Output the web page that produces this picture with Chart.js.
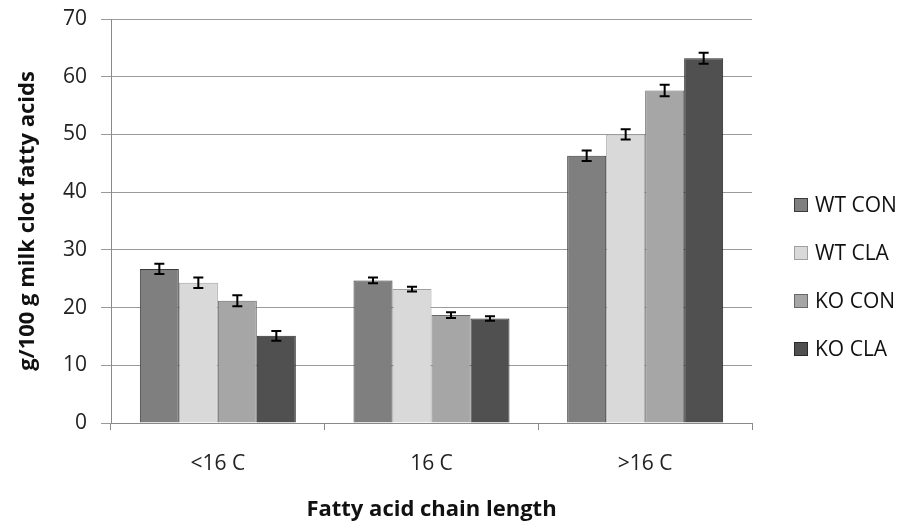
<!DOCTYPE html>
<html>
<head>
<meta charset="utf-8">
<script src="https://cdn.jsdelivr.net/npm/chart.js@4/dist/chart.umd.min.js"></script>
<style>
  html, body { margin: 0; padding: 0; background: #fff; }
  #wrap { width: 906px; height: 531px; }
</style>
</head>
<body>
<div id="wrap"><canvas id="grafico" width="906" height="531"></canvas></div>
<script>
// Datos
const categorias = ['<16 C', '16 C', '>16 C'];
const grupos = ['WT CON', 'WT CLA', 'KO CON', 'KO CLA'];

const wtCon = [26.7, 24.7, 46.3];
const wtCla = [24.3, 23.2, 50.0];
const koCon = [21.2, 18.7, 57.6];
const koCla = [15.1, 18.1, 63.2];

// Error estándar (barras de error)
const errWtCon = [0.9, 0.5, 0.9];
const errWtCla = [0.9, 0.4, 0.9];
const errKoCon = [0.95, 0.5, 1.0];
const errKoCla = [0.85, 0.4, 0.95];

const rellenos = ['#7f7f7f', '#d9d9d9', '#a6a6a6', '#505050'];
const bordes = ['#3a3a3a', '#a0a0a0', '#686868', '#2a2a2a'];

const series = [wtCon, wtCla, koCon, koCla];
const errores = [errWtCon, errWtCla, errKoCon, errKoCla];

const fuente = "'Open Sans', 'DejaVu Sans', sans-serif";

// Barras de error dibujadas sobre cada barra
const barrasError = {
    id: 'barrasError',
    afterDatasetsDraw(chart) {
        const ctx = chart.ctx;
        const y = chart.scales.y;
        ctx.save();
        ctx.strokeStyle = '#000';
        ctx.lineWidth = 2;
        chart.data.datasets.forEach((ds, i) => {
            const meta = chart.getDatasetMeta(i);
            meta.data.forEach((bar, j) => {
                const v = ds.data[j];
                const e = ds.errores[j];
                const yAlto = y.getPixelForValue(v + e);
                const yBajo = y.getPixelForValue(v - e);
                const x = bar.x;
                ctx.beginPath();
                ctx.moveTo(x, yAlto); ctx.lineTo(x, yBajo);
                ctx.moveTo(x - 5, yAlto); ctx.lineTo(x + 5, yAlto);
                ctx.moveTo(x - 5, yBajo); ctx.lineTo(x + 5, yBajo);
                ctx.stroke();
            });
        });
        ctx.restore();
    }
};

// Leyenda a la derecha
const leyenda = {
    id: 'leyenda',
    afterDraw(chart) {
        const ctx = chart.ctx;
        const x0 = 794;
        const yCentro = 277;
        const paso = 48;
        ctx.save();
        ctx.font = '21px ' + fuente;
        ctx.textBaseline = 'middle';
        chart.data.datasets.forEach((ds, i) => {
            const yy = yCentro + (i - 1.5) * paso;
            ctx.fillStyle = ds.backgroundColor;
            ctx.fillRect(x0, yy - 7, 14, 14);
            ctx.strokeStyle = ds.borderColor;
            ctx.lineWidth = 1;
            ctx.strokeRect(x0 + 0.5, yy - 6.5, 13, 13);
            ctx.fillStyle = '#111';
            ctx.fillText(ds.label, x0 + 21, yy + 1);
        });
        ctx.restore();
    }
};

const ctxGrafico = document.getElementById('grafico').getContext('2d');
new Chart(ctxGrafico, {
    type: 'bar',
    data: {
        labels: categorias,
        datasets: grupos.map((g, i) => ({
            label: g,
            data: series[i],
            errores: errores[i],
            backgroundColor: rellenos[i],
            borderColor: bordes[i],
            borderWidth: 1,
            categoryPercentage: 0.73,
            barPercentage: 1.0
        }))
    },
    options: {
        responsive: false,
        animation: false,
        layout: {
            padding: { left: 0, top: 19, right: 154, bottom: 0 }
        },
        plugins: {
            legend: { display: false },
            tooltip: { enabled: false }
        },
        scales: {
            x: {
                grid: {
                    offset: true,
                    drawOnChartArea: false,
                    tickLength: 7,
                    color: '#8a8a8a'
                },
                border: { color: '#8a8a8a' },
                ticks: {
                    padding: 21,
                    color: '#222',
                    font: { family: fuente, size: 21 }
                },
                title: {
                    display: true,
                    text: 'Fatty acid chain length',
                    color: '#111',
                    padding: { top: 0, bottom: 8 },
                    font: { family: fuente, size: 22, weight: 'bold' }
                },
                afterFit(scale) { scale.height = 108; }
            },
            y: {
                min: 0,
                max: 70,
                ticks: {
                    stepSize: 10,
                    padding: 14,
                    color: '#222',
                    font: { family: fuente, size: 21 }
                },
                grid: {
                    color: '#9a9a9a',
                    tickLength: 10
                },
                border: { color: '#8a8a8a' },
                title: {
                    display: true,
                    text: 'g/100 g milk clot fatty acids',
                    color: '#111',
                    padding: { top: 15, bottom: 0 },
                    font: { family: fuente, size: 22, weight: 'bold' }
                },
                afterFit(scale) {
                    scale.width = 111;
                    scale.paddingTop = 0;
                    scale.paddingBottom = 0;
                }
            }
        }
    },
    plugins: [barrasError, leyenda]
});
</script>
</body>
</html>
